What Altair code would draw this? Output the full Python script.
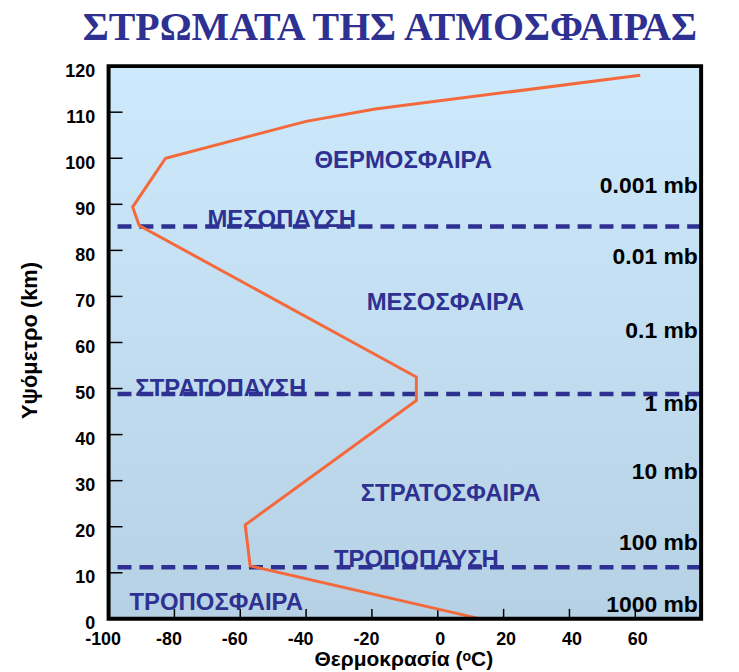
import altair as alt
import pandas as pd

# ---------------- data ----------------
TITLE = "ΣΤΡΩΜΑΤΑ ΤΗΣ ΑΤΜΟΣΦΑΙΡΑΣ"
X_TITLE = "Θερμοκρασία (ᵒC)"
Y_TITLE = "Υψόμετρο (km)"

X_DOMAIN = [-100, 80]
Y_DOMAIN = [0, 120]
X_TICKS = [-100, -80, -60, -40, -20, 0, 20, 40, 60]
Y_TICKS = [0, 10, 20, 30, 40, 50, 60, 70, 80, 90, 100, 110, 120]
X_INNER_TICKS = [-80, -60, -40, -20, 0, 20, 40, 60]
Y_INNER_TICKS = [10, 20, 30, 40, 50, 60, 70, 80, 90, 100, 110]

temperature = [13, -57, -58.5, -6.5, -6.5, -90.7, -92.7, -82.7, -40, -19, 61.5]
altitude = [0, 11.5, 20.4, 47.4, 52.5, 85.4, 89.4, 100, 108, 110.7, 118]

pause_altitude = [85.2, 48.8, 11.2]

layer_names = ["ΘΕΡΜΟΣΦΑΙΡΑ", "ΜΕΣΟΠΑΥΣΗ", "ΜΕΣΟΣΦΑΙΡΑ", "ΣΤΡΑΤΟΠΑΥΣΗ",
               "ΣΤΡΑΤΟΣΦΑΙΡΑ", "ΤΡΟΠΟΠΑΥΣΗ", "ΤΡΟΠΟΣΦΑΙΡΑ"]
layer_temp = [-10.5, -47.4, 2.3, -65.9, 3.9, -6.5, -67.3]
layer_alt = [99.5, 86.6, 68.5, 49.9, 27.0, 12.8, 3.5]

pressure_labels = ["0.001 mb", "0.01 mb", "0.1 mb", "1 mb", "10 mb", "100 mb", "1000 mb"]
pressure_alt = [93.9, 78.5, 62.4, 46.7, 31.9, 16.4, 3.1]
pressure_temp = [79] * len(pressure_labels)

# ---------------- style ----------------
W, H = 595, 555
BLUE = "#2e3192"
ORANGE = "#f4693c"
FONT = "Arial, Liberation Sans, sans-serif"
SERIF = "Liberation Serif, Times New Roman, serif"

x_axis = alt.Axis(
    values=X_TICKS, title=X_TITLE, domain=False, ticks=False, grid=False,
    labelExpr="toString(datum.value)",
    labelFont=FONT, labelFontSize=18, labelFontWeight="bold", labelColor="black",
    labelPadding=12, labelFlush=False,
    labelOffset={"condition": {"test": "datum.value < 0", "value": -6}, "value": 2},
    titleFont=FONT, titleFontSize=21, titleFontWeight="bold", titleColor="black",
    titleX=296, titleY=41, titleBaseline="middle", titleAlign="center",
)
y_axis = alt.Axis(
    values=Y_TICKS, title=Y_TITLE, domain=False, ticks=False, grid=False,
    labelFont=FONT, labelFontSize=18, labelFontWeight="bold", labelColor="black",
    labelPadding=14, labelFlush=False, labelOffset=5,
    titleFont=FONT, titleFontSize=22, titleFontWeight="bold", titleColor="black",
    titleX=-79, titleY=275, titleAngle=270, titleBaseline="middle", titleAlign="center",
)
x_scale = alt.Scale(domain=X_DOMAIN, nice=False, zero=False)
y_scale = alt.Scale(domain=Y_DOMAIN, nice=False, zero=False)


def X(field="t"):
    return alt.X(f"{field}:Q", scale=x_scale, axis=x_axis)


def Y(field="km"):
    return alt.Y(f"{field}:Q", scale=y_scale, axis=y_axis)


bg_df = pd.DataFrame({"t": [X_DOMAIN[0]], "t2": [X_DOMAIN[1]],
                      "km": [Y_DOMAIN[0]], "km2": [Y_DOMAIN[1]]})

gradient = alt.LinearGradient(
    gradient="linear",
    stops=[alt.GradientStop(color="#cdeafc", offset=0),
           alt.GradientStop(color="#b6d1e3", offset=1)],
    x1=0, x2=0, y1=0, y2=1,
)

background = alt.Chart(bg_df).mark_rect(fill=gradient).encode(
    x=X(), x2="t2:Q", y=Y(), y2="km2:Q"
)

y_ticks = alt.Chart(pd.DataFrame({"km": Y_INNER_TICKS})).mark_rule(
    color="black", strokeWidth=1.5
).encode(y=Y(), x=alt.value(0), x2=alt.value(14))

x_ticks = alt.Chart(pd.DataFrame({"t": X_INNER_TICKS})).mark_rule(
    color="black", strokeWidth=1.5
).encode(x=X(), y=alt.value(H), y2=alt.value(H - 10))

pauses = alt.Chart(pd.DataFrame({"km": pause_altitude})).mark_rule(
    color=BLUE, strokeWidth=4.5, strokeDash=[14, 8]
).encode(y=Y())

profile = alt.Chart(pd.DataFrame({"t": temperature, "km": altitude,
                                  "order": list(range(len(altitude)))})).mark_line(
    color=ORANGE, strokeWidth=3
).encode(x=X(), y=Y(), order="order:Q")

layer_text = alt.Chart(pd.DataFrame({"t": layer_temp, "km": layer_alt,
                                     "label": layer_names})).mark_text(
    font=FONT, fontSize=24, fontWeight="bold", color=BLUE,
    align="center", baseline="middle"
).encode(x=X(), y=Y(), text="label:N")

pressure_text = alt.Chart(pd.DataFrame({"t": pressure_temp, "km": pressure_alt,
                                        "label": pressure_labels})).mark_text(
    font=FONT, fontSize=23, fontWeight="bold", color="black",
    align="right", baseline="middle"
).encode(x=X(), y=Y(), text="label:N")

frame = alt.Chart(bg_df).mark_rect(
    filled=False, stroke="black", strokeWidth=4
).encode(x=X(), x2="t2:Q", y=Y(), y2="km2:Q")

title_text = alt.Chart(pd.DataFrame({"label": [TITLE]})).mark_text(
    font=SERIF, fontSize=40, fontWeight="bold", color=BLUE,
    align="center", baseline="alphabetic"
).encode(text="label:N", x=alt.value(W / 2 - 15), y=alt.value(-26))

chart = alt.layer(
    background, y_ticks, x_ticks, pauses, profile, layer_text, pressure_text,
    frame, title_text
).properties(
    width=W, height=H,
    autosize="none",
    padding={"left": 101, "top": 57, "right": 30, "bottom": 50},
).configure_view(stroke=None)

chart.save("out.html", embed_options={"renderer": "svg", "actions": False})
